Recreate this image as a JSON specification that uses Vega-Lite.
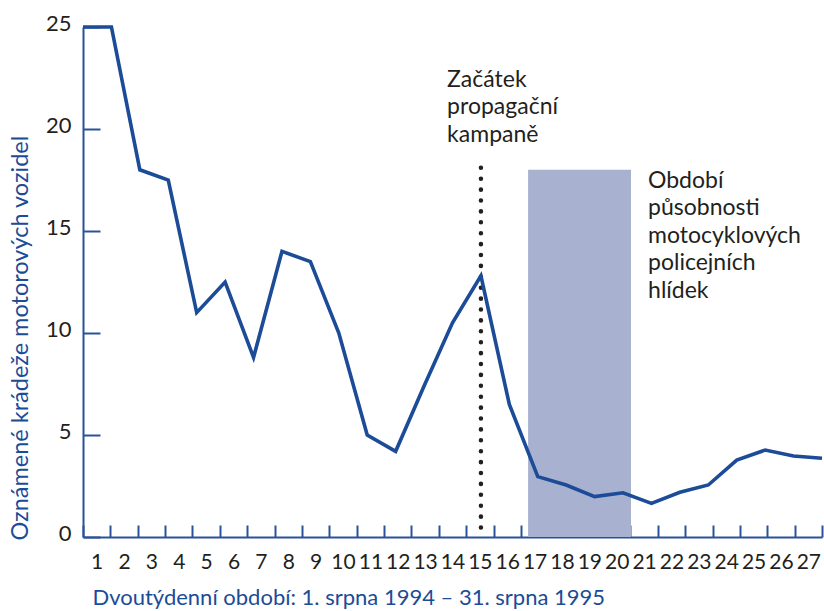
{
  "$schema": "https://vega.github.io/schema/vega-lite/v6.json",
  "width": 739,
  "height": 510,
  "autosize": {"type": "none"},
  "padding": {"left": 83, "top": 27, "right": 2, "bottom": 74},
  "config": {"view": {"stroke": null}, "font": "Lato"},
  "data": {"values": [
    {"t": 1, "v": 25}, {"t": 2, "v": 25}, {"t": 3, "v": 18}, {"t": 4, "v": 17.5},
    {"t": 5, "v": 11}, {"t": 6, "v": 12.5}, {"t": 7, "v": 8.8}, {"t": 8, "v": 14},
    {"t": 9, "v": 13.5}, {"t": 10, "v": 10}, {"t": 11, "v": 5}, {"t": 12, "v": 4.2},
    {"t": 13, "v": 7.4}, {"t": 14, "v": 10.5}, {"t": 15, "v": 12.8}, {"t": 16, "v": 6.5},
    {"t": 17, "v": 2.96}, {"t": 18, "v": 2.55}, {"t": 19, "v": 1.98}, {"t": 20, "v": 2.17},
    {"t": 21, "v": 1.65}, {"t": 22, "v": 2.19}, {"t": 23, "v": 2.55}, {"t": 24, "v": 3.77},
    {"t": 25, "v": 4.26}, {"t": 26, "v": 3.97}, {"t": 27, "v": 3.86}
  ]},
  "resolve": {"scale": {"x": "independent"}},
  "layer": [
    {
      "layer": [
        {
          "data": {"values": [{"x1": 16.66, "x2": 20.28, "top": 18}]},
          "mark": {"type": "rect", "color": "#a8b1d0"},
          "encoding": {
            "x": {"field": "x1", "type": "quantitative"},
            "x2": {"field": "x2"},
            "y": {"field": "top", "type": "quantitative"},
            "y2": {"datum": 0}
          }
        },
        {
          "data": {"values": [{"x": 15, "top": 18.1}]},
          "mark": {"type": "rule", "color": "#231f20", "strokeWidth": 4.5, "strokeCap": "round", "strokeDash": [0.1, 10.8]},
          "encoding": {
            "x": {"field": "x", "type": "quantitative"},
            "y": {"field": "top", "type": "quantitative"},
            "y2": {"datum": 0}
          }
        },
        {
          "mark": {"type": "line", "color": "#1c4b97", "strokeWidth": 3.6},
          "encoding": {
            "x": {"field": "t", "type": "quantitative", "scale": {"domain": [1, 27], "nice": false, "zero": false},
              "axis": {"orient": "top", "labels": false, "ticks": false, "domain": false, "grid": false, "title": null}},
            "y": {"field": "v", "type": "quantitative", "scale": {"domain": [0, 25], "nice": false},
              "axis": {
                "values": [0, 5, 10, 15, 20, 25],
                "grid": false,
                "domainColor": "#2a5298", "domainWidth": 2,
                "tickColor": "#2a5298", "tickWidth": 2, "tickSize": -17,
                "labelFontSize": 22, "labelColor": "#231f20", "labelPadding": 29, "labelOffset": -4,
                "title": "Oznámené krádeže motorových vozidel",
                "titleColor": "#1c4b97", "titleFontSize": 23.5, "titleFontWeight": "normal",
                "titleAngle": -90, "titleX": -63, "titleY": 513, "titleAlign": "left", "titleBaseline": "middle"
              }
            }
          }
        },
        {
          "data": {"values": [
            {"x": 13.81, "y": 22.06, "label": "Začátek\npropagační\nkampaně"},
            {"x": 20.88, "y": 17.11, "label": "Období\npůsobnosti\nmotocyklových\npolicejních\nhlídek"}
          ]},
          "mark": {"type": "text", "align": "left", "baseline": "alphabetic", "fontSize": 23, "lineHeight": 27.5, "color": "#231f20", "lineBreak": "\n"},
          "encoding": {
            "x": {"field": "x", "type": "quantitative"},
            "y": {"field": "y", "type": "quantitative"},
            "text": {"field": "label"}
          }
        }
      ]
    },
    {
      "mark": {"type": "point", "opacity": 0},
      "encoding": {
        "x": {"field": "t", "type": "ordinal", "scale": {"type": "band", "paddingInner": 0, "paddingOuter": 0},
          "axis": {
            "orient": "bottom", "tickBand": "extent", "labelAngle": 0,
            "domainColor": "#2a5298", "domainWidth": 2,
            "tickColor": "#2a5298", "tickWidth": 2, "tickSize": -12,
            "labelFontSize": 21, "labelColor": "#231f20", "labelPadding": 26,
            "title": "Dvoutýdenní období: 1. srpna 1994 – 31. srpna 1995",
            "titleColor": "#1c4b97", "titleFontSize": 22, "titleFontWeight": "normal",
            "titleX": 9, "titleY": 60, "titleAlign": "left", "titleBaseline": "middle"
          }
        }
      }
    }
  ]
}
